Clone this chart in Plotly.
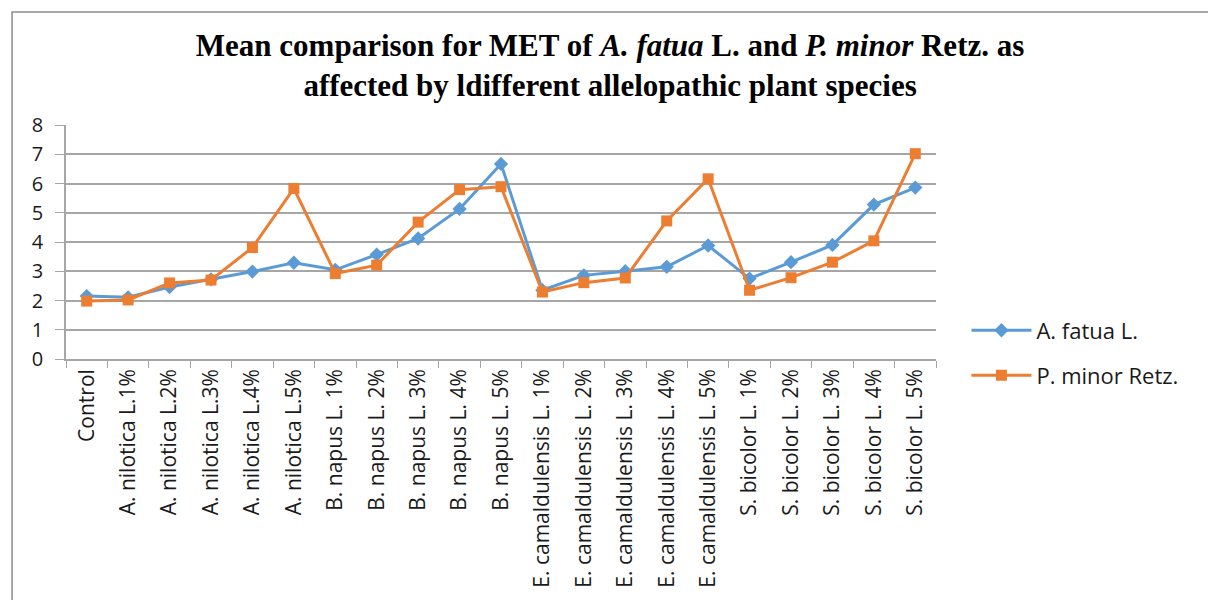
import plotly.graph_objects as go

categories = [
    "Control",
    "A. nilotica L.1%", "A. nilotica L.2%", "A. nilotica L.3%", "A. nilotica L.4%", "A. nilotica L.5%",
    "B. napus L. 1%", "B. napus L. 2%", "B. napus L. 3%", "B. napus L. 4%", "B. napus L. 5%",
    "E. camaldulensis L. 1%", "E. camaldulensis L. 2%", "E. camaldulensis L. 3%",
    "E. camaldulensis L. 4%", "E. camaldulensis L. 5%",
    "S. bicolor L. 1%", "S. bicolor L. 2%", "S. bicolor L. 3%", "S. bicolor L. 4%", "S. bicolor L. 5%",
]
a_fatua = [2.15, 2.11, 2.46, 2.72, 2.99, 3.29, 3.05, 3.57, 4.12, 5.13, 6.67,
           2.35, 2.86, 3.00, 3.15, 3.88, 2.75, 3.31, 3.90, 5.28, 5.86]
p_minor = [1.98, 2.02, 2.60, 2.70, 3.81, 5.83, 2.92, 3.21, 4.68, 5.79, 5.89,
           2.29, 2.61, 2.77, 4.72, 6.16, 2.35, 2.78, 3.31, 4.04, 7.02]
y_ticks = [0, 1, 2, 3, 4, 5, 6, 7, 8]

BLUE = "#5B9BD5"
ORANGE = "#ED7D31"
GRID = "#A6A6A6"
SANS = "'Open Sans', 'Noto Sans', sans-serif"
TEXT = "#1a1a1a"

fig = go.Figure()
fig.add_trace(go.Scatter(
    x=categories, y=a_fatua, name="A. fatua L.", mode="lines+markers",
    line=dict(color=BLUE, width=3),
    marker=dict(symbol="diamond", size=11, color=BLUE),
    legend="legend",
))
fig.add_trace(go.Scatter(
    x=categories, y=p_minor, name="P. minor Retz.", mode="lines+markers",
    line=dict(color=ORANGE, width=3),
    marker=dict(symbol="square", size=11, color=ORANGE),
    legend="legend2",
))

legend_font = dict(family=SANS, size=22, color=TEXT)
fig.update_layout(
    width=1208, height=600,
    margin=dict(l=66, r=272, t=125, b=239),
    paper_bgcolor="white", plot_bgcolor="white",
    title=dict(
        text="Mean comparison for MET of <i>A. fatua</i> L. and <i>P. minor</i> Retz. as"
             "<br>affected by ldifferent allelopathic plant species",
        x=0.505, xanchor="center", y=0.907, yanchor="middle",
        font=dict(family="'Liberation Serif', 'Times New Roman', serif", size=31,
                  color="black", weight="bold"),
    ),
    legend=dict(x=1.035, xanchor="left", y=0.122, yanchor="middle",
                font=legend_font, bgcolor="rgba(0,0,0,0)", itemwidth=60),
    legend2=dict(x=1.035, xanchor="left", y=-0.07, yanchor="middle",
                 font=legend_font, bgcolor="rgba(0,0,0,0)", itemwidth=60),
    showlegend=True,
)

fig.update_xaxes(
    type="category", range=[-0.5, len(categories) - 0.5],
    tickson="boundaries", ticks="outside", ticklen=7,
    tickcolor=GRID, showline=True, linecolor=GRID, linewidth=1.5,
    showgrid=False, tickangle=-90, tickfont=dict(family=SANS, size=21, color=TEXT),
)
fig.update_yaxes(
    range=[0, 8], tickvals=y_ticks, ticks="outside", ticklen=9, tickcolor=GRID,
    showline=True, linecolor=GRID, linewidth=1.5,
    showgrid=True, gridcolor=GRID, gridwidth=1.5, zeroline=False,
    tickfont=dict(family=SANS, size=20, color=TEXT), ticklabelstandoff=8,
)

# Outer chart frame
fig.add_shape(type="rect", xref="paper", yref="paper",
              x0=-0.062, x1=1.32, y0=-1.05, y1=1.483,
              line=dict(color="#8C8C8C", width=1.5), fillcolor="rgba(0,0,0,0)")

fig.write_html("out.html")
